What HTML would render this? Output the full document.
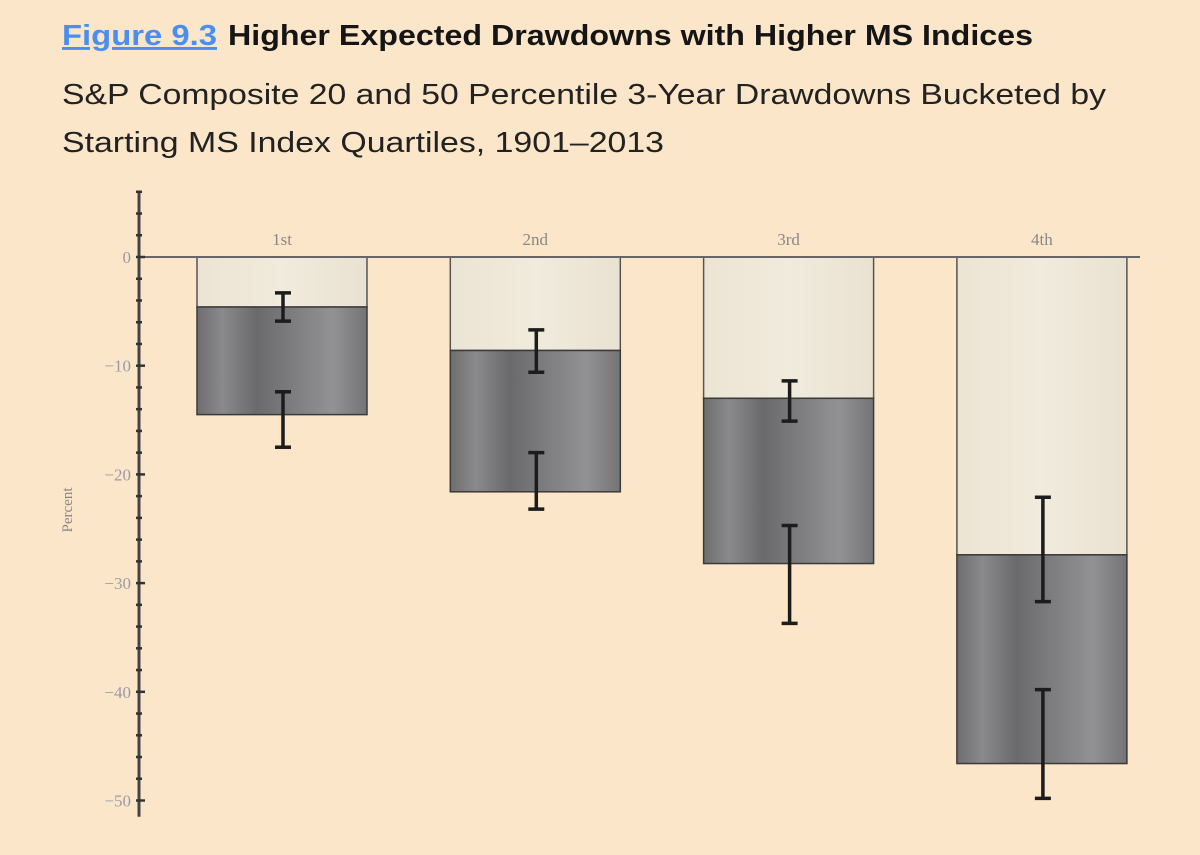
<!DOCTYPE html>
<html><head><meta charset="utf-8"><style>
html,body{margin:0;padding:0;background:#fbe6c9;}
svg{display:block;}
</style></head><body>
<svg id="chart" width="1200" height="855" viewBox="0 0 1200 855" xmlns="http://www.w3.org/2000/svg">
<defs>
<linearGradient id="dark" x1="0" x2="1" y1="0" y2="0">
<stop offset="0" stop-color="#6e6e70"/><stop offset="0.15" stop-color="#8a8a8c"/><stop offset="0.35" stop-color="#6a6a6c"/><stop offset="0.55" stop-color="#7c7c7e"/><stop offset="0.8" stop-color="#929294"/><stop offset="1" stop-color="#747476"/>
</linearGradient>
<linearGradient id="light" x1="0" x2="1" y1="0" y2="0">
<stop offset="0" stop-color="#ece4d3"/><stop offset="0.5" stop-color="#f1ebdd"/><stop offset="1" stop-color="#e9e2d2"/>
</linearGradient>
</defs>
<rect x="0" y="0" width="1200" height="855" fill="#fbe6c9"/>
<text x="62" y="45" font-family="Liberation Sans, sans-serif" font-weight="bold" font-size="29" fill="#4a8ff0" text-decoration="underline" textLength="155" lengthAdjust="spacingAndGlyphs">Figure 9.3</text>
<text x="228" y="45" font-family="Liberation Sans, sans-serif" font-weight="bold" font-size="29" fill="#151515" textLength="805" lengthAdjust="spacingAndGlyphs">Higher Expected Drawdowns with Higher MS Indices</text>
<text x="62" y="104" font-family="Liberation Sans, sans-serif" font-size="29" fill="#222" textLength="1044" lengthAdjust="spacingAndGlyphs">S&amp;P Composite 20 and 50 Percentile 3-Year Drawdowns Bucketed by</text>
<text x="62" y="152" font-family="Liberation Sans, sans-serif" font-size="29" fill="#222" textLength="602" lengthAdjust="spacingAndGlyphs">Starting MS Index Quartiles, 1901–2013</text>
<g id="plot"></g>
</svg>
<script>
const categories = ["1st","2nd","3rd","4th"];
const median = [-4.6, -8.6, -13.0, -27.4];
const pct20 = [-14.5, -21.6, -28.2, -46.6];
const medianErrHi = [-3.3, -6.7, -11.4, -22.1];
const medianErrLo = [-5.9, -10.6, -15.1, -31.7];
const pct20ErrHi = [-12.4, -18.0, -24.7, -39.8];
const pct20ErrLo = [-17.5, -23.2, -33.7, -49.8];
const yTicks = [0, -10, -20, -30, -40, -50];

const NS = "http://www.w3.org/2000/svg";
const g = document.getElementById('plot');
const y0 = 257, pxPerUnit = 10.87;
function y(v){ return y0 - v * pxPerUnit; }
const axisX = 139;
const firstLeft = 197, step = 253.3, barW = 170;
function xLeft(i){ return firstLeft + i * step; }
function mk(tag, attrs){ const e = document.createElementNS(NS, tag); for (const k in attrs) e.setAttribute(k, attrs[k]); g.appendChild(e); return e; }

categories.forEach((c, i) => {
  const x = xLeft(i);
  let r = mk('rect', {x: x, y: y(0), width: barW, height: y(median[i]) - y(0), fill: 'url(#light)', stroke: '#555', 'stroke-width': 1.5});
  
  
  r = mk('rect', {x: x, y: y(median[i]), width: barW, height: y(pct20[i]) - y(median[i]), fill: 'url(#dark)', stroke: '#3a3a3a', 'stroke-width': 1.5});
  
  
  const t = mk('text', {x: x + barW/2, y: y(0) - 12, 'text-anchor': 'middle', 'font-family': 'Liberation Serif, serif', 'font-size': 17, fill: '#888'});
  t.textContent = c;
  
  
});
let zl = mk('line', {x1: axisX, x2: 1140, y1: y(0), y2: y(0), stroke: '#666', 'stroke-width': 2});


function errBar(i, hi, lo, name){
  const cx = xLeft(i) + barW/2 + 1;
  const eg = document.createElementNS(NS, 'g'); g.appendChild(eg);
  
  
  [[cx, y(hi), cx, y(lo)], [cx-8, y(hi), cx+8, y(hi)], [cx-8, y(lo), cx+8, y(lo)]].forEach(p => {
    const l = document.createElementNS(NS, 'line');
    l.setAttribute('x1', p[0]); l.setAttribute('y1', p[1]); l.setAttribute('x2', p[2]); l.setAttribute('y2', p[3]);
    l.setAttribute('stroke', '#1c1c1c'); l.setAttribute('stroke-width', 3.5);
    eg.appendChild(l);
  });
}
categories.forEach((c, i) => {
  errBar(i, medianErrHi[i], medianErrLo[i], 'error-bar-median-' + c);
  errBar(i, pct20ErrHi[i], pct20ErrLo[i], 'error-bar-20pct-' + c);
});
let ax = mk('line', {x1: axisX, x2: axisX, y1: y(6), y2: y(-51.5), stroke: '#444', 'stroke-width': 3});


for (let v = 6; v >= -50; v -= 2) {
  const major = v % 10 === 0;
  const tk = mk('line', {x1: axisX - 3, x2: axisX + (major ? 6 : 3), y1: y(v), y2: y(v), stroke: '#333', 'stroke-width': 2.5});
  
  
}
yTicks.forEach(v => {
  const t = mk('text', {x: axisX - 8, y: y(v) + 6, 'text-anchor': 'end', 'font-family': 'Liberation Serif, serif', 'font-size': 17, fill: '#9a9aa4'});
  t.textContent = v === 0 ? '0' : '−' + Math.abs(v);
  
  
});
const yt = mk('text', {x: 0, y: 0, transform: 'translate(72,510) rotate(-90)', 'text-anchor': 'middle', 'font-family': 'Liberation Serif, serif', 'font-size': 15, fill: '#888'});
yt.textContent = 'Percent';


</script>
</body></html>
